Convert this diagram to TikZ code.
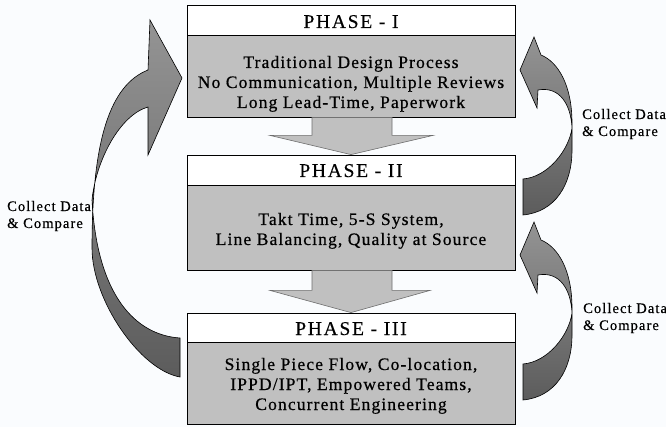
\documentclass[tikz,border=0pt]{standalone}
\usepackage{fontspec}
\setmainfont{Liberation Serif}
\newfontfamily\headfont[LetterSpace=9,FakeBold=0.3]{Liberation Serif}
\newfontfamily\panelfont[LetterSpace=6.5,FakeBold=0.6]{Liberation Serif}
\newfontfamily\notefont[LetterSpace=7.5,FakeBold=0.5]{Liberation Serif}
\usetikzlibrary{calc}

\definecolor{paper}{RGB}{250,252,254}
\definecolor{boxgray}{RGB}{192,192,192}
\definecolor{arrowlight}{RGB}{148,148,148}
\definecolor{arrowdark}{RGB}{92,92,92}
\definecolor{edgegray}{RGB}{110,110,110}

\tikzset{
  phasetitle/.style={draw=black, line width=0.8pt, fill=white, inner sep=0pt,
    minimum width=328pt, font=\headfont\fontsize{19.5}{20}\selectfont},
  phasebody/.style={draw=black, line width=0.8pt, fill=boxgray, inner sep=0pt,
    minimum width=328pt, align=center, font=\panelfont\fontsize{17.5}{20}\selectfont},
  flowarrow/.style={fill=boxgray, draw=edgegray, line width=0.6pt, line join=miter},
  loopshape/.style={draw=black, line width=0.6pt, top color=arrowlight, bottom color=arrowdark},
  sidenote/.style={align=left, inner sep=0pt, anchor=base west,
    font=\notefont\fontsize{14.5}{17}\selectfont},
  rightloop/.pic={
    \path[loopshape] (523,215) .. controls (555,212) and (572,185) .. (572,150)
      -- (572,123) .. controls (572,85) and (558,62) .. (541,55)
      -- (534,37) -- (520,70) -- (537,108) -- (538,90)
      .. controls (560,86) and (571,105) .. (572,128)
      .. controls (569,150) and (548,177) .. (523,179) -- cycle;
  }
}

\begin{document}
\begin{tikzpicture}[x=1pt,y=-1pt]
  % page
  \fill[paper] (0,0) rectangle (666,427);
  \useasboundingbox (0,0) rectangle (666,427);

  % phase boxes: heading strip above a grey panel
  % (multi-line panels sit on their last baseline, hence the text height/depth split)
  \node[phasetitle, text height=23pt, text depth=7pt] (t1) at (351,20) {PHASE - I};
  \node[phasebody, text height=73pt, text depth=9pt] (b1) at (351,76)
    {Traditional Design Process\\No Communication, Multiple Reviews\\Long Lead-Time, Paperwork};

  \node[phasetitle, text height=22pt, text depth=8pt] (t2) at (351,170) {PHASE - II};
  \node[phasebody, text height=60pt, text depth=25pt] (b2) at (351,227.5)
    {Takt Time, 5-S System,\\Line Balancing, Quality at Source};

  \node[phasetitle, text height=22pt, text depth=7pt] (t3) at (351,327.5) {PHASE - III};
  \node[phasebody, text height=68pt, text depth=14pt] (b3) at (351,383)
    {Single Piece Flow, Co-location,\\IPPD/IPT, Empowered Teams,\\Concurrent Engineering};

  % block arrows between phases
  \path[flowarrow] ($(b1.south)+(-39,0)$) -- ($(b1.south)+(41,0)$)
    -- ($(b1.south)+(41,18)$) -- ($(b1.south)+(82,18)$) -- (t2.north)
    -- ($(b1.south)+(-81,18)$) -- ($(b1.south)+(-39,18)$) -- cycle;
  \path[flowarrow] ($(b2.south)+(-39,0)$) -- ($(b2.south)+(41,0)$)
    -- ($(b2.south)+(41,20)$) -- ($(b2.south)+(79,20)$) -- (t3.north)
    -- ($(b2.south)+(-81,20)$) -- ($(b2.south)+(-39,20)$) -- cycle;

  % large feedback loop on the left: phase III back to phase I
  \path[loopshape] (180,377) .. controls (140,370) and (92,300) .. (92,248)
    .. controls (92,140) and (110,85) .. (148,70)
    -- (150,20) -- (182,78) -- (148,155) -- (148,107)
    .. controls (120,115) and (96,160) .. (92,200)
    .. controls (97,295) and (135,335) .. (180,338) -- cycle;

  % small feedback loops on the right
  \pic at (0,0) {rightloop};
  \pic at (0,185) {rightloop};

  % loop captions (anchored on their second line)
  \node[sidenote] (nl) at (7,228) {Collect Data\\\& Compare};
  \node[sidenote] (nr1) at (582,136) {Collect Data\\\& Compare};
  \node[sidenote] (nr2) at (583,330) {Collect Data\\\& Compare};
\end{tikzpicture}
\end{document}
